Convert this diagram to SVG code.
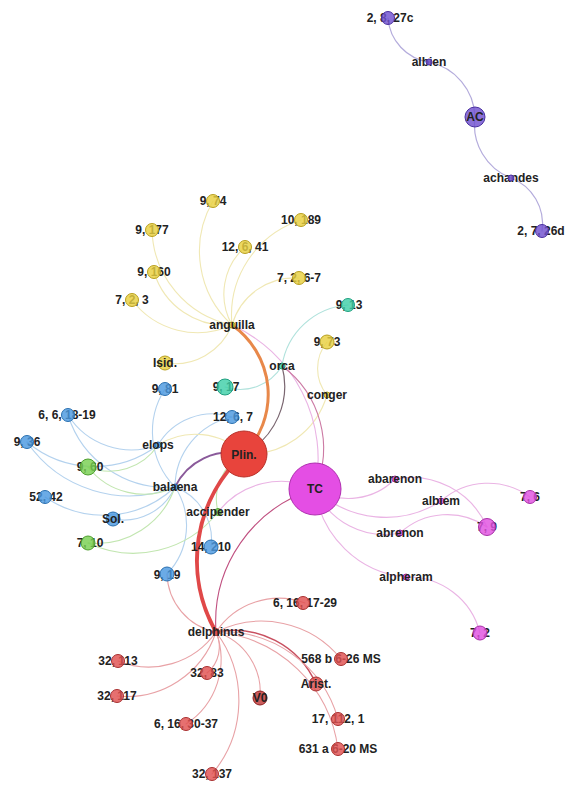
<svg xmlns="http://www.w3.org/2000/svg" width="570" height="785" viewBox="0 0 570 785">
<style>
.e{fill:none;stroke-linecap:round}
.v{stroke:#b4acdc;stroke-width:1.2}
.y{stroke:#f0e8b4;stroke-width:1.1}
.t{stroke:#b0e2dc;stroke-width:1.1}
.b{stroke:#b4d2ee;stroke-width:1.1}
.g{stroke:#c2e6b0;stroke-width:1.1}
.r{stroke:#e8a2a6;stroke-width:1.1}
.p{stroke:#eab4e4;stroke-width:1.1}
text{font-family:"Liberation Sans",Arial,sans-serif;font-size:12px;font-weight:bold;fill:#222;text-anchor:middle;dominant-baseline:central}
.n{stroke-width:1;fill-opacity:.82}
.cv{fill:#7050d0;stroke:#4a30a0}
.cy{fill:#e8d040;stroke:#b8a020}
.ct{fill:#40d0a8;stroke:#20a080}
.cb{fill:#4a98e0;stroke:#2a70b0}
.cg{fill:#78d050;stroke:#50a030}
.cr{fill:#e05050;stroke:#a83030}
.cp{fill:#e050e0;stroke:#a830a8}
</style>
<rect width="570" height="785" fill="#ffffff"/>
<g id="edges">
<path class="e v" d="M429,62 A48,48 0 0 1 388,18"/>
<path class="e v" d="M429,62 A58,58 0 0 1 475,117"/>
<path class="e v" d="M511,178 A57,57 0 0 1 475,117"/>
<path class="e v" d="M511,178 A49,49 0 0 1 542,231"/>
<path class="e y" d="M232,325 A100,100 0 0 1 213,201"/>
<path class="e y" d="M232,325 A100,100 0 0 1 152,230"/>
<path class="e y" d="M232,325 A75,75 0 0 1 154,272"/>
<path class="e y" d="M232,325 A82,82 0 0 1 132,300"/>
<path class="e y" d="M232,325 A63,63 0 0 1 245,247"/>
<path class="e y" d="M232,325 A100,100 0 0 1 301,220"/>
<path class="e y" d="M232,325 A65,65 0 0 1 299,278"/>
<path class="e y" d="M232,325 A62,62 0 0 1 165,363"/>
<path class="e y" d="M327,395 A42,42 0 0 1 327,342"/>
<path class="e y" d="M327,395 A82,82 0 0 1 244,454"/>
<path class="e p" d="M232,325 A147,147 0 0 1 315,489"/>
<path class="e t" d="M282,366 A72,72 0 0 1 348,305"/>
<path class="e t" d="M282,366 A49,49 0 0 1 225,387"/>
<path class="e" d="M282,366 A77,77 0 0 1 244,454" stroke="#7a6670" stroke-width="1.2"/>
<path class="e" d="M282,366 A102,102 0 0 1 315,489" stroke="#cc7aa4" stroke-width="1.1"/>
<path class="e b" d="M175,487 A103,103 0 0 1 68,415"/>
<path class="e b" d="M175,487 A124,124 0 0 1 27,442"/>
<path class="e b" d="M175,487 A104,104 0 0 1 45,497"/>
<path class="e b" d="M175,487 A56,56 0 0 1 113,519"/>
<path class="e b" d="M175,487 A79,79 0 0 1 165,389"/>
<path class="e b" d="M175,487 A70,70 0 0 1 167,574"/>
<path class="e b" d="M175,487 A56,56 0 0 1 211,547"/>
<path class="e b" d="M175,487 A72,72 0 0 1 232,417"/>
<path class="e b" d="M158,445 A63,63 0 0 1 232,417"/>
<path class="e b" d="M158,445 A105,105 0 0 1 27,442"/>
<path class="e b" d="M158,445 A75,75 0 0 1 68,415"/>
<path class="e g" d="M158,445 A58,58 0 0 1 88,467"/>
<path class="e y" d="M158,445 A70,70 0 0 1 244,454"/>
<path class="e g" d="M175,487 A71,71 0 0 1 88,467"/>
<path class="e g" d="M175,487 A83,83 0 0 1 88,543"/>
<path class="e g" d="M218,512 A107,107 0 0 1 88,543"/>
<path class="e g" d="M218,512 A51,51 0 0 1 244,454"/>
<path class="e p" d="M218,512 A80,80 0 0 1 315,489"/>
<path class="e" d="M175,487 A61,61 0 0 1 244,454" stroke="#8a5a9a" stroke-width="2"/>
<path class="e" d="M232,325 A85,85 0 0 1 244,454" stroke="#e8884a" stroke-width="3"/>
<path class="e" d="M216,632 A139,139 0 0 1 315,489" stroke="#c05080" stroke-width="1.1"/>
<path class="e r" d="M216,632 A61,61 0 0 1 167,574"/>
<path class="e r" d="M216,632 A75,75 0 0 1 305,603"/>
<path class="e r" d="M216,632 A102,102 0 0 1 341,659"/>
<path class="e" d="M216,632 A90,90 0 0 1 316,684" stroke="#c85060" stroke-width="1.5"/>
<path class="e r" d="M216,632 A120,120 0 0 1 338,719"/>
<path class="e r" d="M216,632 A135,135 0 0 1 338,749"/>
<path class="e r" d="M216,632 A63,63 0 0 1 260,698"/>
<path class="e r" d="M216,632 A34,34 0 0 1 207,673"/>
<path class="e r" d="M216,632 A82,82 0 0 1 118,661"/>
<path class="e r" d="M216,632 A94,94 0 0 1 117,696"/>
<path class="e r" d="M216,632 A77,77 0 0 1 186,724"/>
<path class="e r" d="M216,632 A114,114 0 0 1 212,774"/>
<path class="e" d="M216,632 A144,144 0 0 1 244,454" stroke="#e04848" stroke-width="4"/>
<path class="e p" d="M395,479 A65,65 0 0 1 315,489"/>
<path class="e p" d="M441,501 A102,102 0 0 1 315,489"/>
<path class="e p" d="M400,533 A76,76 0 0 1 315,489"/>
<path class="e p" d="M406,577 A101,101 0 0 1 315,489"/>
<path class="e p" d="M395,479 A83,83 0 0 1 487,527"/>
<path class="e p" d="M441,501 A71,71 0 0 1 530,497"/>
<path class="e p" d="M400,533 A70,70 0 0 1 487,527"/>
<path class="e p" d="M406,577 A74,74 0 0 1 480,633"/>
</g>
<g id="n-2-8-27c"><text x="390" y="18">2, 8, 27c</text><circle class="n cv" cx="388" cy="18" r="6.5"/></g>
<g id="n-albien"><text x="429" y="62">albien</text><circle class="n cv" cx="429" cy="62" r="3"/></g>
<g id="n-AC"><circle class="n cv" cx="475" cy="117" r="10" fill-opacity="1"/><text x="475" y="117">AC</text></g>
<g id="n-achandes"><text x="511" y="178">achandes</text><circle class="n cv" cx="511" cy="178" r="3"/></g>
<g id="n-2-7-26d"><text x="541" y="231">2, 7, 26d</text><circle class="n cv" cx="542" cy="231" r="6.5"/></g>
<g id="n-9-74"><text x="213" y="201">9, 74</text><circle class="n cy" cx="213" cy="201" r="6.5"/></g>
<g id="n-9-177"><text x="152" y="230">9, 177</text><circle class="n cy" cx="152" cy="230" r="6.5"/></g>
<g id="n-10-189"><text x="301" y="220">10, 189</text><circle class="n cy" cx="301" cy="220" r="6.5"/></g>
<g id="n-12-6-41"><text x="245" y="247">12, 6, 41</text><circle class="n cy" cx="245" cy="247" r="6.5"/></g>
<g id="n-9-160"><text x="154" y="272">9, 160</text><circle class="n cy" cx="154" cy="272" r="6.5"/></g>
<g id="n-7-2-6-7"><text x="299" y="278">7, 2, 6-7</text><circle class="n cy" cx="299" cy="278" r="6.5"/></g>
<g id="n-7-2-3"><text x="132" y="300">7, 2, 3</text><circle class="n cy" cx="132" cy="300" r="6.5"/></g>
<g id="n-anguilla"><circle class="n cy" cx="232" cy="325" r="3"/><text x="232" y="325">anguilla</text></g>
<g id="n-9-13"><text x="349" y="305">9, 13</text><circle class="n ct" cx="348" cy="305" r="6.5"/></g>
<g id="n-9-73"><text x="327" y="342">9, 73</text><circle class="n cy" cx="327" cy="342" r="7"/></g>
<g id="n-Isid"><circle class="n cy" cx="165" cy="363" r="7"/><text x="165" y="363">Isid.</text></g>
<g id="n-orca"><circle class="n ct" cx="282" cy="366" r="3"/><text x="282" y="366">orca</text></g>
<g id="n-9-81"><text x="165" y="389">9, 81</text><circle class="n cb" cx="165" cy="389" r="6.5"/></g>
<g id="n-9-17"><text x="226" y="387">9, 17</text><circle class="n ct" cx="225" cy="387" r="8"/></g>
<g id="n-conger"><circle class="n cy" cx="327" cy="395" r="3"/><text x="327" y="395">conger</text></g>
<g id="n-6-6-18-19"><text x="67" y="415">6, 6, 18-19</text><circle class="n cb" cx="68" cy="415" r="6.5"/></g>
<g id="n-12-6-7"><text x="233" y="417">12, 6, 7</text><circle class="n cb" cx="232" cy="417" r="6.5"/></g>
<g id="n-elops"><circle class="n cb" cx="158" cy="445" r="3"/><text x="158" y="445">elops</text></g>
<g id="n-9-36"><text x="27" y="442">9, 36</text><circle class="n cb" cx="27" cy="442" r="6.5"/></g>
<g id="n-9-60"><text x="90" y="467">9, 60</text><circle class="n cg" cx="88" cy="467" r="8"/></g>
<g id="n-balaena"><circle class="n cb" cx="175" cy="487" r="3"/><text x="175" y="487">balaena</text></g>
<g id="n-52-42"><text x="46" y="497">52, 42</text><circle class="n cb" cx="45" cy="497" r="6.5"/></g>
<g id="n-accipender"><circle class="n cg" cx="218" cy="512" r="3.5"/><text x="218" y="512">accipender</text></g>
<g id="n-Sol"><circle class="n cb" cx="113" cy="519" r="7"/><text x="113" y="519">Sol.</text></g>
<g id="n-7-10"><text x="90" y="543">7, 10</text><circle class="n cg" cx="88" cy="543" r="7"/></g>
<g id="n-14-210"><text x="211" y="547">14, 210</text><circle class="n cb" cx="211" cy="547" r="7"/></g>
<g id="n-9-19"><text x="167" y="575">9, 19</text><circle class="n cb" cx="167" cy="574" r="7"/></g>
<g id="n-abarenon"><circle class="n cp" cx="395" cy="479" r="3"/><text x="395" y="479">abarenon</text></g>
<g id="n-albiem"><circle class="n cp" cx="441" cy="501" r="3"/><text x="441" y="501">albiem</text></g>
<g id="n-abrenon"><circle class="n cp" cx="400" cy="533" r="3"/><text x="400" y="533">abrenon</text></g>
<g id="n-alpheram"><circle class="n cp" cx="406" cy="577" r="3"/><text x="406" y="577">alpheram</text></g>
<g id="n-7-6"><text x="530" y="497">7, 6</text><circle class="n cp" cx="530" cy="497" r="6.5"/></g>
<g id="n-7-9"><text x="487" y="527">7, 9</text><circle class="n cp" cx="487" cy="527" r="8.5"/></g>
<g id="n-7-2"><text x="480" y="633">7, 2</text><circle class="n cp" cx="480" cy="633" r="7"/></g>
<g id="n-6-16-17-29"><text x="305" y="603">6, 16, 17-29</text><circle class="n cr" cx="303" cy="603" r="6.5"/></g>
<g id="n-delphinus"><circle class="n cr" cx="216" cy="632" r="3.5"/><text x="216" y="632">delphinus</text></g>
<g id="n-568b"><text x="341" y="659">568 b 6-26 MS</text><circle class="n cr" cx="341" cy="659" r="6.5"/></g>
<g id="n-32-113"><text x="118" y="661">32, 113</text><circle class="n cr" cx="118" cy="661" r="6.5"/></g>
<g id="n-32-83"><text x="207" y="673">32, 83</text><circle class="n cr" cx="207" cy="673" r="6.5"/></g>
<g id="n-Arist"><circle class="n cr" cx="316" cy="684" r="7"/><text x="316" y="684">Arist.</text></g>
<g id="n-32-117"><text x="117" y="696">32, 117</text><circle class="n cr" cx="117" cy="696" r="6.5"/></g>
<g id="n-V0"><circle class="n" cx="260" cy="698" r="7" fill="#c03838" stroke="#902020"/><text x="260" y="698">V0</text></g>
<g id="n-17-112-1"><text x="338" y="719">17, 112, 1</text><circle class="n cr" cx="338" cy="719" r="6.5"/></g>
<g id="n-6-16-30-37"><text x="186" y="724">6, 16, 30-37</text><circle class="n cr" cx="186" cy="724" r="6.5"/></g>
<g id="n-631a"><text x="338" y="749">631 a 6-20 MS</text><circle class="n cr" cx="338" cy="749" r="6.5"/></g>
<g id="n-32-137"><text x="212" y="774">32, 137</text><circle class="n cr" cx="212" cy="774" r="6.5"/></g>
<g id="n-Plin"><circle cx="244" cy="454" r="23" fill="#e8443c" stroke="#b83028" stroke-width="1"/><text x="244" y="455">Plin.</text></g>
<g id="n-TC"><circle cx="315" cy="489" r="26" fill="#e44ee4" stroke="#b030b0" stroke-width="1"/><text x="315" y="489">TC</text></g>
</svg>
